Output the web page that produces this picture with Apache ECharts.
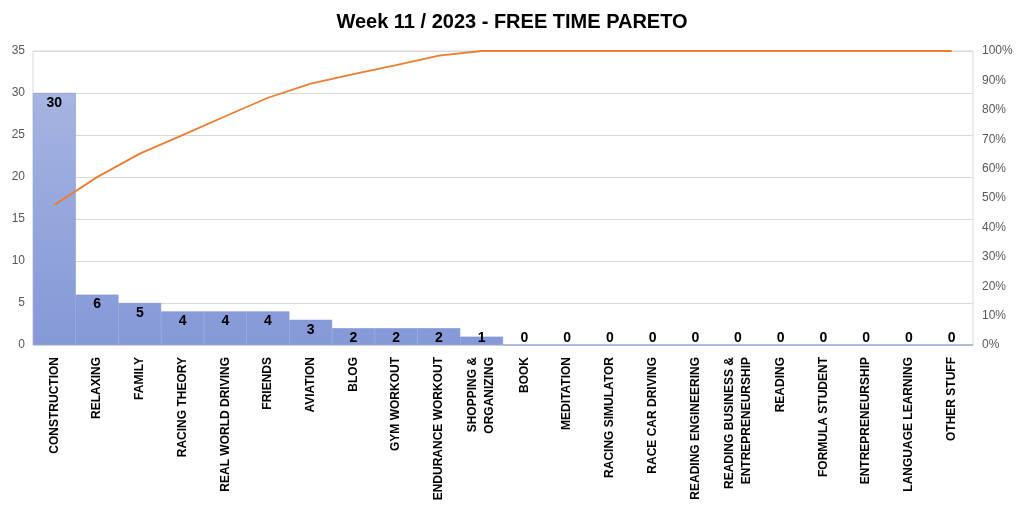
<!DOCTYPE html>
<html><head><meta charset="utf-8">
<script src="https://cdn.jsdelivr.net/npm/echarts@6/dist/echarts.min.js"></script>
<style>html,body{margin:0;padding:0;background:#fff}#c{width:1024px;height:510px}</style>
</head><body><div id="c"></div>
<script>
const categories = ["CONSTRUCTION","RELAXING","FAMILY","RACING THEORY","REAL WORLD DRIVING","FRIENDS","AVIATION","BLOG","GYM WORKOUT","ENDURANCE WORKOUT","SHOPPING &\nORGANIZING","BOOK","MEDITATION","RACING SIMULATOR","RACE CAR DRIVING","READING ENGINEERING","READING BUSINESS &\nENTREPRENEURSHIP","READING","FORMULA STUDENT","ENTREPRENEURSHIP","LANGUAGE LEARNING","OTHER STUFF"];
const hours = [30,6,5,4,4,4,3,2,2,2,1,0,0,0,0,0,0,0,0,0,0,0];
const cumulativePct = [47.6,57.1,65.1,71.4,77.8,84.1,88.9,92.1,95.2,98.4,100,100,100,100,100,100,100,100,100,100,100,100];
const leftTicks = [0,5,10,15,20,25,30,35];
const rightTicks = [0,10,20,30,40,50,60,70,80,90,100];

const chart = echarts.init(document.getElementById('c'));
const gridTop = 51, gridBottomPx = 345;
const barFill = new echarts.graphic.LinearGradient(0, gridTop, 0, gridBottomPx, [
  {offset:0, color:'#B2BFE3'},{offset:0.2, color:'#A3B2E0'},{offset:1, color:'#8598D8'}], true);
chart.setOption({
  animation:false,
  title:{text:'Week 11 / 2023 - FREE TIME PARETO', left:'center', top:7,
    textStyle:{fontFamily:'Liberation Sans', fontWeight:'bold', fontSize:20, color:'#000'}},
  grid:{left:33, right:51, top:gridTop, bottom:510-gridBottomPx, show:true, borderColor:'#D9D9D9', borderWidth:1},
  xAxis:{type:'category', data:categories, boundaryGap:true,
    axisLine:{show:true, lineStyle:{color:'#D9D9D9'}}, axisTick:{show:false},
    axisLabel:{rotate:90, interval:0, margin:12, color:'#000', fontWeight:'bold', fontSize:12,
      fontFamily:'Liberation Sans', lineHeight:17}},
  yAxis:[
    {type:'value', min:0, max:35, interval:5, position:'left',
      axisLine:{show:false}, axisTick:{show:false},
      splitLine:{lineStyle:{color:'#D9D9D9'}},
      axisLabel:{color:'#595959', fontSize:12, fontFamily:'Liberation Sans', margin:8,
        formatter:v=>leftTicks.includes(v)?String(v):''}},
    {type:'value', min:0, max:100, interval:10, position:'right',
      axisLine:{show:false}, axisTick:{show:false}, splitLine:{show:false},
      axisLabel:{color:'#595959', fontSize:12, fontFamily:'Liberation Sans', margin:9,
        formatter:v=>rightTicks.includes(v)?v+'%':''}}
  ],
  series:[
    {type:'bar', yAxisIndex:0, barCategoryGap:'0%', 
      data:hours.map(v=>({value:v, label:{position: v<=1?'insideBottom':'insideTop', distance: v<=1?0:3}})),
      itemStyle:{color:barFill, borderColor:'#7F93D2', borderWidth:0.6},
      label:{show:true, color:'#000', fontWeight:'bold', fontSize:14, fontFamily:'Liberation Sans'}},
    {type:'line', yAxisIndex:1, data:cumulativePct, showSymbol:false, symbol:'none',
      lineStyle:{color:'#ED7D31', width:1.8}, z:5}
  ]
});
</script></body></html>
